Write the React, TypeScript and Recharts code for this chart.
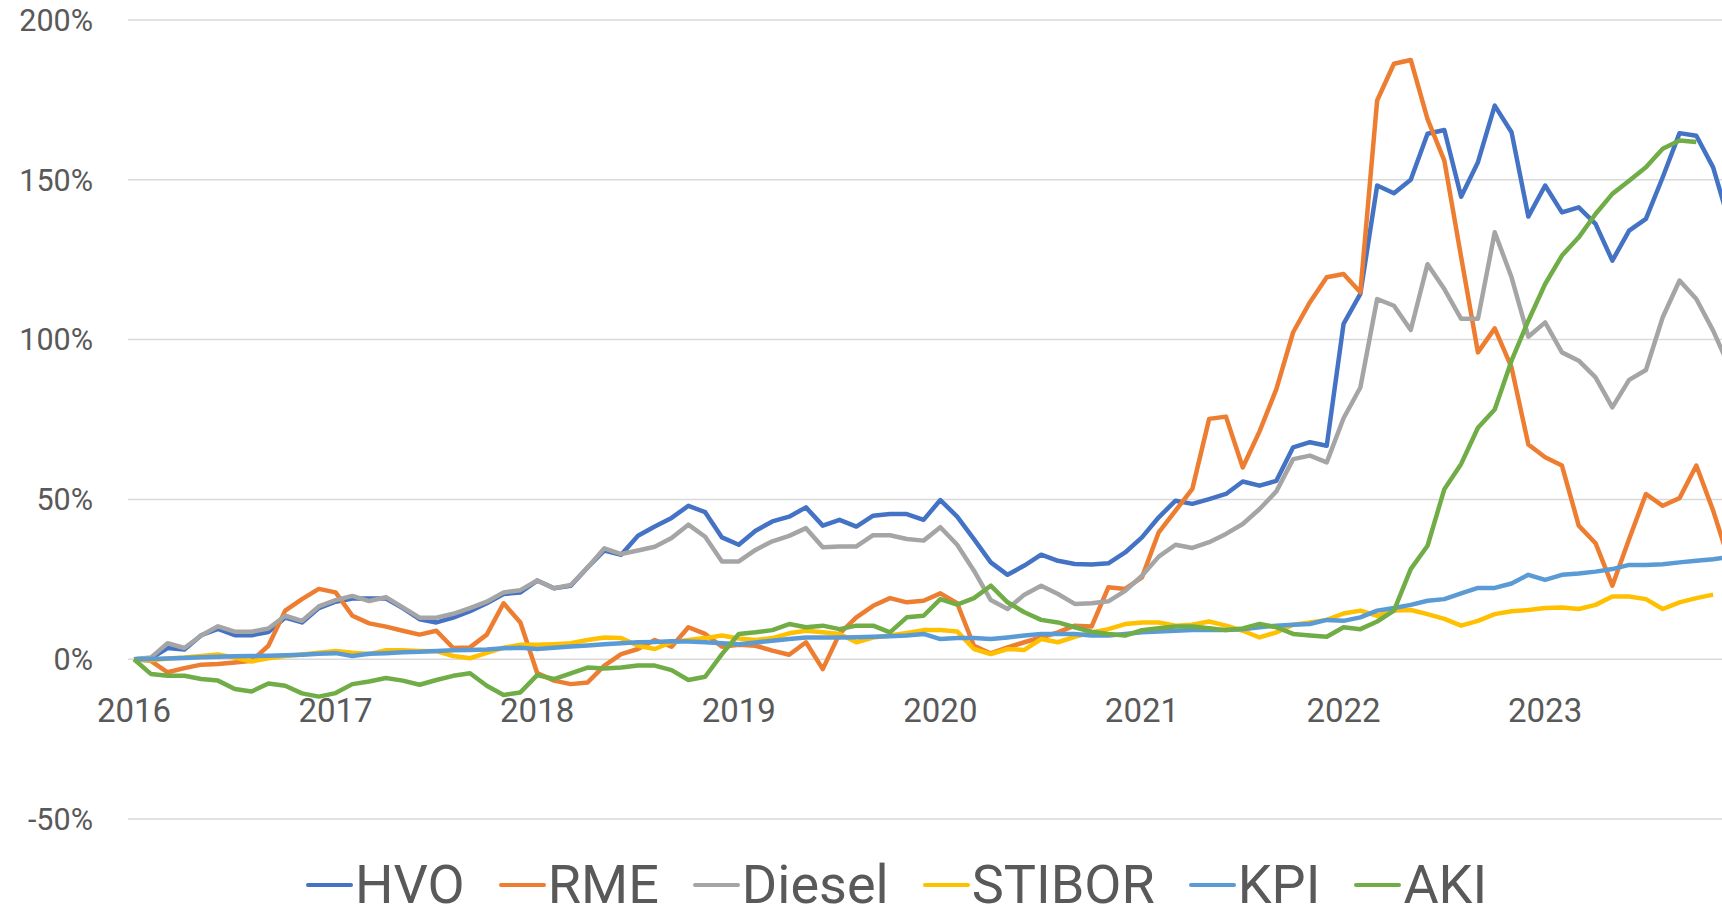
import React from "react";
import { LineChart, Line, XAxis, YAxis, CartesianGrid, Legend } from "recharts";

// monthly index 0 = Jan 2016
const YEARS = ["2016", "2017", "2018", "2019", "2020", "2021", "2022", "2023"];
const Y_TICKS = [-50, 0, 50, 100, 150, 200];

const HVO = [
  0, 0.3, 3.5, 3.0, 7.5, 9.5, 7.5, 7.5, 8.5, 13, 11.5, 16,
  18, 19, 19, 19, 16, 12.5, 11.5, 13, 15, 17.5, 20.4, 20.9,
  24.6, 22.2, 23.0, 28.7, 34.0, 32.7, 38.6, 41.5, 44.2, 48.0, 46.0, 38.1,
  35.8, 40.2, 43.1, 44.6, 47.5, 41.8, 43.6, 41.5, 44.9, 45.4, 45.4, 43.6,
  49.8, 44.6, 37.6, 30.3, 26.4, 29.3, 32.7, 30.8, 29.8, 29.6, 30.0, 33.4,
  38.1, 44.4, 49.6, 48.6, 50.1, 51.7, 55.6, 54.3, 55.8, 66.3, 67.9, 66.8,
  104.9, 114.3, 148.2, 145.8, 150.0, 164.4, 165.6, 144.7, 155.5, 173.2, 164.9, 138.5,
  148.2, 139.8, 141.4, 136.2, 124.7, 134.1, 137.8, 150.8, 164.6, 163.8, 153.9, 136,
];
const RME = [
  0, -0.5, -4.1, -2.8, -1.7, -1.5, -1.0, -0.5, 4.2, 15.2, 18.8, 22.0,
  20.9, 13.6, 11.2, 10.2, 8.9, 7.7, 8.9, 3.5, 3.7, 7.7, 17.5, 11.5,
  -4.3, -6.7, -7.8, -7.3, -2.0, 1.6, 3.2, 6.0, 3.9, 10.0, 7.9, 3.9,
  4.5, 4.2, 2.7, 1.4, 5.3, -3.1, 8.0, 13.1, 16.7, 19.1, 17.8, 18.3,
  20.6, 17.5, 4.2, 1.8, 3.7, 5.3, 6.8, 8.4, 10.5, 10.2, 22.5, 22.0,
  25.6, 39.7, 46.5, 53.3, 75.2, 75.9, 60.0, 71.3, 84.5, 102.3, 111.7, 119.5,
  120.5, 114.8, 174.8, 186.3, 187.5, 169.0, 156.0, 125.8, 96.0, 103.5, 91.3, 67.2,
  63.2, 60.6, 41.8, 36.3, 23.0, 37.6, 51.7, 48.0, 50.4, 60.6, 46.5, 30,
];
const DIESEL = [
  0, 0.5, 5.0, 3.5, 7.4, 10.3, 8.6, 8.6, 9.6, 13.6, 12.0, 16.5,
  18.5, 19.8, 18.2, 19.4, 16.2, 13.0, 13.0, 14.2, 16.0, 18.0, 20.9, 21.6,
  24.6, 22.2, 23.2, 28.7, 34.7, 32.9, 34.0, 35.2, 37.9, 42.1, 38.3, 30.6,
  30.6, 34.2, 36.9, 38.6, 41.0, 35.0, 35.3, 35.3, 38.8, 38.8, 37.6, 37.1,
  41.3, 35.8, 27.7, 18.5, 15.7, 20.2, 23.0, 20.4, 17.3, 17.5, 18.1, 21.4,
  26.1, 32.1, 35.8, 34.8, 36.6, 39.2, 42.3, 47.0, 52.5, 62.6, 63.7, 61.6,
  75.4, 85.0, 112.7, 110.6, 103.0, 123.6, 115.8, 106.5, 106.5, 133.6, 119.5, 100.9,
  105.4, 96.0, 93.4, 88.2, 78.8, 87.4, 90.5, 107.0, 118.5, 112.7, 102.8, 91,
];
const STIBOR = [
  0, -0.3, 0.2, 0.5, 1.0, 1.5, 0.5, -0.7, 0.3, 1.0, 1.5, 2.0,
  2.6, 2.0, 1.6, 2.8, 2.8, 2.6, 2.5, 1.0, 0.3, 2.0, 3.6, 4.5,
  4.5, 4.7, 5.0, 6.0, 6.8, 6.6, 4.2, 3.2, 5.3, 6.0, 6.6, 7.4,
  6.5, 6.0, 6.6, 8.1, 8.9, 8.4, 7.9, 5.3, 6.8, 7.4, 8.2, 9.1,
  9.1, 8.7, 3.2, 1.6, 3.2, 2.9, 6.3, 5.3, 7.0, 8.4, 9.4, 11.0,
  11.5, 11.5, 10.5, 10.8, 11.8, 10.5, 8.9, 6.8, 8.4, 10.8, 11.5, 12.3,
  14.3, 15.2, 13.6, 15.2, 15.4, 14.1, 12.6, 10.5, 12.0, 14.1, 15.0, 15.4,
  16.0, 16.2, 15.7, 17.0, 19.6, 19.6, 18.8, 15.7, 17.8, 19.1, 20.2, null,
];
const KPI = [
  0, 0.1, 0.2, 0.4, 0.6, 0.8, 0.9, 1.0, 1.1, 1.2, 1.4, 1.7,
  1.9, 1.0, 1.7, 1.9, 2.2, 2.3, 2.6, 2.8, 2.9, 3.0, 3.4, 3.6,
  3.2, 3.6, 4.0, 4.3, 4.7, 5.0, 5.3, 5.4, 5.6, 5.5, 5.3, 5.0,
  4.7, 5.2, 5.8, 6.3, 6.8, 6.8, 6.8, 6.9, 7.0, 7.2, 7.4, 7.9,
  6.3, 6.6, 6.6, 6.3, 6.8, 7.4, 7.9, 7.9, 7.9, 7.4, 7.4, 7.9,
  8.4, 8.7, 8.9, 9.1, 9.1, 9.1, 9.4, 10.0, 10.5, 10.8, 11.0, 12.3,
  12.0, 13.1, 15.2, 16.0, 17.0, 18.3, 18.8, 20.6, 22.3, 22.3, 23.7, 26.4,
  24.8, 26.4, 26.8, 27.4, 28.2, 29.5, 29.5, 29.7, 30.3, 30.8, 31.3, 32.0,
];
const AKI = [
  0, -4.6, -5.2, -5.2, -6.2, -6.7, -9.3, -10.1, -7.6, -8.3, -10.7, -11.7,
  -10.6, -7.8, -7.0, -5.9, -6.7, -8.0, -6.5, -5.2, -4.4, -8.3, -11.2, -10.4,
  -5.0, -6.2, -4.4, -2.6, -2.9, -2.6, -2.0, -2.0, -3.4, -6.5, -5.5, 1.6,
  7.9, 8.4, 9.1, 11.0, 10.0, 10.5, 9.4, 10.5, 10.5, 8.4, 13.1, 13.6,
  18.8, 17.1, 19.1, 23.0, 17.8, 14.7, 12.3, 11.5, 10.0, 8.6, 7.9, 7.4,
  9.1, 9.7, 10.2, 10.2, 9.7, 9.1, 9.6, 11.0, 10.0, 7.9, 7.4, 7.0,
  10.0, 9.4, 11.8, 15.2, 28.2, 35.5, 53.2, 61.1, 72.4, 78.1, 93.4, 105.9,
  117.4, 126.3, 132.0, 139.3, 145.6, 149.7, 153.9, 159.7, 162.3, 161.8, null, null,
];

const SERIES = [
  { key: "HVO", values: HVO, color: "#4472C4" },
  { key: "RME", values: RME, color: "#ED7D31" },
  { key: "Diesel", values: DIESEL, color: "#A5A5A5" },
  { key: "STIBOR", values: STIBOR, color: "#FFC000" },
  { key: "KPI", values: KPI, color: "#5B9BD5" },
  { key: "AKI", values: AKI, color: "#70AD47" },
];
const ORDER = SERIES.map((s) => s.key);

const data = HVO.map((_, m) => {
  const row: Record<string, number | null> = { m };
  SERIES.forEach((s) => { row[s.key] = s.values[m]; });
  return row;
});

const TEXT = "#595959";
const FONT = "Roboto, sans-serif";

const YearTick = (props: any) => {
  const { x, y, payload } = props;
  // Excel puts the labels just under the 0% line, not at the plot bottom
  return (
    <text x={x} y={y - 97} textAnchor="middle" fill={TEXT} fontSize={33} fontFamily={FONT}>
      {YEARS[Math.round(payload.value / 12)]}
    </text>
  );
};

const renderLegend = (props: any) => {
  const items = [...(props.payload || [])].sort((a: any, b: any) => ORDER.indexOf(a.value) - ORDER.indexOf(b.value));
  return (
    <div style={{ display: "flex", alignItems: "center", height: 44, paddingLeft: 306, position: "relative", top: -10 }}>
      {items.map((e: any) => (
        <div key={e.value} style={{ display: "flex", alignItems: "center", marginRight: 34 }}>
          <span style={{ display: "inline-block", width: 47, height: 4.5, background: e.color, borderRadius: 2 }} />
          <span style={{ marginLeft: 2, fontSize: 54, lineHeight: "44px", color: TEXT, fontFamily: FONT }}>{e.value}</span>
        </div>
      ))}
    </div>
  );
};

export default function App() {
  return (
    <div style={{ position: "absolute", left: 0, top: 0, width: 1722, height: 917, overflow: "hidden", background: "#fff" }}>
      <LineChart width={1760} height={917} data={data} margin={{ top: 20, right: 0, bottom: 0, left: 0 }} style={{ fontFamily: FONT }}>
        <CartesianGrid vertical={false} stroke="#D9D9D9" strokeWidth={1.5} />
        <XAxis
          type="number"
          dataKey="m"
          domain={[-0.357, 96.79]}
          ticks={[0, 12, 24, 36, 48, 60, 72, 84]}
          allowDataOverflow
          axisLine={false}
          tickLine={false}
          tickSize={0}
          tickMargin={0}
          height={54}
          tick={<YearTick />}
        />
        <YAxis
          domain={[-50, 200]}
          ticks={Y_TICKS}
          allowDataOverflow
          width={128}
          axisLine={false}
          tickLine={false}
          tickSize={0}
          tickMargin={35}
          tickFormatter={(v: number) => `${v}%`}
          tick={{ fill: TEXT, fontSize: 30.5, fontFamily: FONT }}
        />
        <Legend verticalAlign="bottom" content={renderLegend} />
        {SERIES.map((s) => (
          <Line
            key={s.key}
            type="linear"
            dataKey={s.key}
            name={s.key}
            stroke={s.color}
            strokeWidth={4.5}
            strokeLinejoin="round"
            dot={false}
            activeDot={false}
            isAnimationActive={false}
          />
        ))}
      </LineChart>
    </div>
  );
}
